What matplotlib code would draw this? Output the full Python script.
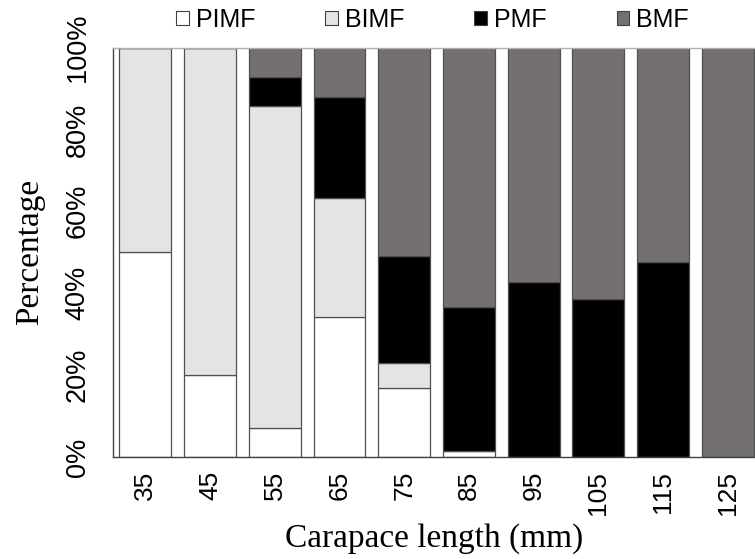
import matplotlib
matplotlib.use("Agg")
import matplotlib.pyplot as plt
from matplotlib.patches import Patch
import numpy as np

categories = ["35", "45", "55", "65", "75", "85", "95", "105", "115", "125"]
series_names = ["PIMF", "BIMF", "PMF", "BMF"]
PIMF = [50.0, 20.0, 7.1, 34.1, 16.8, 1.5, 0.0, 0.0, 0.0, 0.0]
BIMF = [50.0, 80.0, 78.6, 29.2, 6.2, 0.0, 0.0, 0.0, 0.0, 0.0]
PMF = [0.0, 0.0, 7.1, 24.5, 26.2, 35.1, 42.7, 38.5, 47.6, 0.0]
BMF = [0.0, 0.0, 7.2, 12.2, 50.8, 63.4, 57.3, 61.5, 52.4, 100.0]
colors = ["#FFFFFF", "#E4E4E4", "#000000", "#747070"]
yticks = [0, 20, 40, 60, 80, 100]
ytick_labels = ["0%", "20%", "40%", "60%", "80%", "100%"]

fig = plt.figure(figsize=(7.55, 5.59), dpi=100)
ax = fig.add_axes([113/755, 102/559, 1 - 113/755, (457-47.5)/559])

x = np.arange(len(categories))
bottom = np.zeros(len(categories))
for name, vals, c in zip(series_names, [PIMF, BIMF, PMF, BMF], colors):
    v = np.array(vals)
    ax.bar(x, v, width=0.8, bottom=bottom, color=c, edgecolor="#505050",
           linewidth=0.9, label=name)
    bottom += v

ax.set_xlim(-0.5, 9.42)
ax.set_ylim(0, 100)
ax.set_xticks(x)
ax.set_xticklabels(categories, rotation=90, family="Liberation Sans", fontsize=19)
ax.set_yticks(yticks)
ax.set_yticklabels(ytick_labels, rotation=90, va="center",
                   family="Liberation Sans", fontsize=19.5)
ax.tick_params(axis="both", length=0)
ax.tick_params(axis="y", pad=16)
ax.tick_params(axis="x", pad=10)
for s in ax.spines.values():
    s.set_color("#404040")
    s.set_linewidth(1.0)
ax.spines["top"].set_color("#B0B0B0")
ax.spines["right"].set_visible(False)

ax.set_ylabel("Percentage", family="Liberation Serif", fontsize=24, labelpad=14)
ax.set_xlabel("Carapace length (mm)", family="Liberation Serif", fontsize=24, labelpad=6)

handles = [Patch(facecolor=c, edgecolor="#404040", linewidth=0.8) for c in colors]
leg = ax.legend(handles, series_names, loc="center", bbox_to_anchor=(0.4977, 1.067),
                ncol=4, frameon=False, prop={"family": "Liberation Sans", "size": 18},
                handlelength=0.5, handleheight=0.5, handletextpad=0.28,
                columnspacing=2.8, borderaxespad=0)

fig.savefig("out.png", dpi=100)
